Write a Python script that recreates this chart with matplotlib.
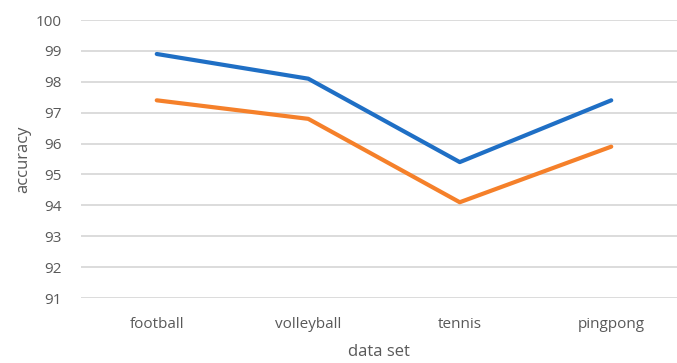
import matplotlib
matplotlib.use("Agg")
import matplotlib.pyplot as plt

datasets = ["football", "volleyball", "tennis", "pingpong"]
series_blue = [98.9, 98.1, 95.4, 97.4]
series_orange = [97.4, 96.8, 94.1, 95.9]
yticks = [91, 92, 93, 94, 95, 96, 97, 98, 99, 100]

plt.rcParams['font.family'] = ['Open Sans', 'DejaVu Sans']

fig = plt.figure(figsize=(6.77, 3.63), dpi=100)
ax = fig.add_axes([81 / 677, 65 / 363, 596 / 677, 278 / 363])

x = list(range(len(datasets)))
ax.plot(x, series_blue, color='#1f6fc5', linewidth=3, solid_capstyle='round')
ax.plot(x, series_orange, color='#f5802a', linewidth=3, solid_capstyle='round')

ax.set_xlim(-0.5, 3.434)
ax.set_ylim(91, 100)
ax.set_yticks(yticks)
ax.set_xticks(x)
ax.set_xticklabels(datasets)
ax.yaxis.grid(True, color='#d9d9d9', linewidth=1.3)
ax.set_axisbelow(True)
for s in ax.spines.values():
    s.set_visible(False)
ax.tick_params(length=0, colors='#595959', labelsize=11)
ax.tick_params(axis='y', pad=14)
ax.tick_params(axis='x', pad=14)

ax.set_ylabel("accuracy", fontsize=12, color='#595959', labelpad=3)
ax.set_xlabel("data set", fontsize=12, color='#595959', labelpad=8)

fig.savefig("out.png", dpi=100)
